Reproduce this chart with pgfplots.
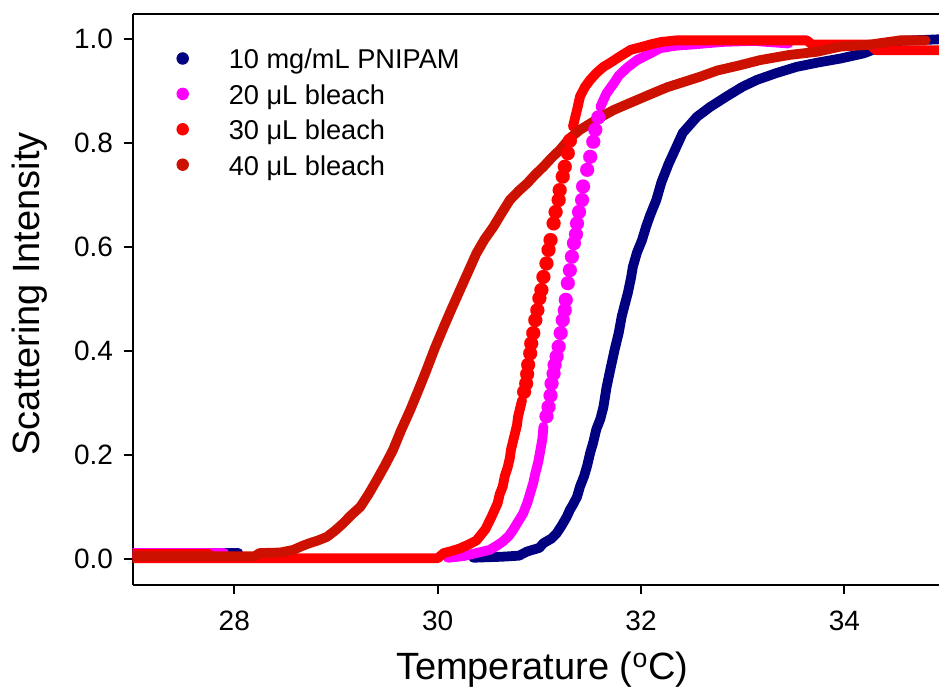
\documentclass[border=0pt]{standalone}
\usepackage{fontspec}
\setmainfont{Liberation Sans}
\usepackage{pgfplots}
\pgfplotsset{compat=1.18}
\definecolor{cblue}{RGB}{0,0,128}
\definecolor{cmag}{RGB}{255,0,255}
\definecolor{cred}{RGB}{255,0,0}
\definecolor{cdred}{RGB}{204,17,0}
\pgfplotsset{
  mydense/.style={mark=none, line width=4.9pt, line join=round, line cap=round},
  mysparse/.style={only marks, mark=*, mark size=3.5pt, mark options={solid, line width=0.05pt}},
}
\begin{document}
\begin{tikzpicture}
\useasboundingbox (-66.3pt,-51.5pt) rectangle (403.2pt,292.5pt);
\begin{axis}[
  scale only axis, width=403.2pt, height=285.5pt,
  xmin=27, xmax=34.93, ymin=-0.0494, ymax=1.0487,
  axis x line=box, axis y line=left,
  axis line style={-, line width=1pt, black},
  xtick pos=bottom, ytick pos=left,
  tick align=outside, major tick length=4.5pt,
  every tick/.style={black, line width=1pt},
  xtick={28,30,32,34}, ytick={0,0.2,0.4,0.6,0.8,1.0},
  /pgf/number format/assume math mode=true,
  ticklabel style={font=\fontsize{14}{16}\selectfont},
  xticklabel style={yshift=-4.8pt},
  yticklabel style={xshift=-1.8pt, /pgf/number format/.cd, fixed, fixed zerofill, precision=1},
  xlabel={Temperature (\textsuperscript{o}C)},
  ylabel={Scattering Intensity},
  xlabel style={font=\fontsize{19}{22}\selectfont, at={(axis description cs:0.508,0)}, anchor=base, yshift=-47.5pt},
  ylabel style={font=\fontsize{19}{22}\selectfont, at={(axis description cs:-0.116,0.51)}, anchor=base, rotate=0},
  legend image code/.code={\path (-2.9pt,0pt) -- (2.9pt,0pt); \fill (0pt,0pt) circle (2.9pt);},
  legend cell align=left,
  legend style={at={(rel axis cs:0,1)}, anchor=north west, xshift=21.95pt, yshift=-16pt,
    draw=none, fill=none, inner sep=0pt, outer sep=0pt, column sep=19.95pt, row sep=5.2pt,
    font=\fontsize{13.6}{15}\selectfont,
    nodes={inner sep=0pt, text height=11.5pt, text depth=1pt}},
  clip=true,
]
\addlegendimage{cblue}\addlegendentry{10 mg/mL PNIPAM}
\addlegendimage{cmag}\addlegendentry{20 μL bleach}
\addlegendimage{cred}\addlegendentry{30 μL bleach}
\addlegendimage{cdred}\addlegendentry{40 μL bleach}

% ---- 10 mg/mL PNIPAM ----
\addplot[mydense, color=cblue, forget plot] coordinates {(27,0.012) (27.5,0.012) (28.04,0.012)};
\addplot[mydense, color=cblue, forget plot] coordinates {
(30.35,0.003) (30.64,0.005) (30.8,0.007) (30.88,0.015) (31.0,0.022) (31.04,0.031)
(31.12,0.040) (31.17,0.050) (31.22,0.065) (31.27,0.082) (31.30,0.095) (31.33,0.105)
(31.37,0.120) (31.40,0.140) (31.44,0.160) (31.47,0.180) (31.50,0.205) (31.53,0.225)
(31.56,0.250) (31.60,0.270) (31.63,0.293) (31.66,0.330) (31.69,0.358) (31.72,0.385)
(31.74,0.403) (31.78,0.435) (31.81,0.467) (31.84,0.490) (31.87,0.512) (31.90,0.540)
(31.92,0.563) (31.96,0.590) (32.01,0.614) (32.05,0.640) (32.09,0.662) (32.15,0.691)
(32.20,0.725) (32.27,0.760) (32.34,0.790) (32.41,0.820) (32.55,0.851) (32.68,0.870)
(32.84,0.890) (33.00,0.909) (33.14,0.922) (33.33,0.935) (33.53,0.947) (33.73,0.955)
(33.96,0.963) (34.19,0.973) (34.35,0.985) (34.55,0.997) (34.93,1.000)};

% ---- 20 uL bleach ----
\addplot[mydense, color=cmag, forget plot] coordinates {(27,0.012) (27.5,0.012) (27.9,0.012)};
\addplot[mydense, color=cmag, forget plot] coordinates {
(30.10,0.003) (30.25,0.006) (30.38,0.012) (30.51,0.018) (30.58,0.026) (30.64,0.034)
(30.70,0.045) (30.74,0.056) (30.79,0.072) (30.84,0.088) (30.88,0.108) (30.91,0.127)
(30.94,0.147) (30.96,0.165) (30.99,0.188) (31.01,0.210) (31.03,0.232) (31.04,0.255)};
\addplot[mysparse, color=cmag, forget plot] coordinates {
(31.07,0.275) (31.09,0.293) (31.11,0.315) (31.12,0.338) (31.14,0.357) (31.15,0.374)
(31.17,0.390) (31.19,0.409) (31.21,0.435) (31.23,0.460) (31.25,0.479) (31.26,0.499)
(31.28,0.531) (31.30,0.556) (31.32,0.582) (31.34,0.608) (31.36,0.625) (31.37,0.646)
(31.39,0.668) (31.42,0.691) (31.43,0.717) (31.47,0.749) (31.50,0.774) (31.53,0.803)
(31.55,0.826) (31.58,0.850)};
\addplot[mydense, color=cmag, forget plot] coordinates {
(31.60,0.870) (31.66,0.896) (31.73,0.915) (31.78,0.930) (31.86,0.945) (31.96,0.960)
(32.08,0.972) (32.19,0.983) (32.35,0.988) (32.50,0.990) (32.80,0.995) (33.10,0.997)
(33.45,0.992)};

% ---- 30 uL bleach ----
\addplot[mydense, color=cred, forget plot] coordinates {(27,0.010) (27.4,0.010) (27.75,0.010)};
\addplot[mydense, color=cred, forget plot] coordinates {
(27,0.002) (27.5,0.002) (28.0,0.002) (28.5,0.002) (29.0,0.002) (29.5,0.002) (30.0,0.002)
(30.06,0.012) (30.14,0.016) (30.22,0.021) (30.30,0.028) (30.38,0.036) (30.43,0.048)
(30.47,0.058) (30.50,0.070) (30.53,0.082) (30.56,0.095) (30.59,0.108) (30.61,0.125)
(30.64,0.140) (30.66,0.160) (30.69,0.178) (30.71,0.195) (30.72,0.210) (30.74,0.226)
(30.76,0.242) (30.78,0.258) (30.79,0.274) (30.81,0.290) (30.83,0.306)};
\addplot[mysparse, color=cred, forget plot] coordinates {
(30.85,0.322) (30.87,0.338) (30.88,0.356) (30.89,0.374) (30.91,0.396) (30.92,0.415)
(30.94,0.435) (30.96,0.460) (30.98,0.479) (31.00,0.502) (31.02,0.518) (31.04,0.543)
(31.07,0.569) (31.09,0.595) (31.11,0.614) (31.14,0.646) (31.16,0.668) (31.19,0.691)
(31.20,0.710) (31.23,0.736) (31.25,0.755) (31.28,0.781) (31.30,0.805)};
\addplot[mydense, color=cred, forget plot] coordinates {
(31.33,0.832) (31.37,0.864) (31.40,0.890) (31.45,0.909) (31.50,0.922) (31.56,0.935)
(31.63,0.947) (31.69,0.954) (31.80,0.968) (31.90,0.980) (32.00,0.985) (32.09,0.990)
(32.20,0.995) (32.35,0.998) (32.70,0.998) (33.00,0.998) (33.30,0.998) (33.63,0.998)
(33.68,0.990) (34.00,0.990) (34.25,0.990) (34.31,0.979) (34.60,0.979) (34.93,0.979)};

% ---- 40 uL bleach ----
\addplot[mydense, color=cdred, forget plot] coordinates {
(27,0.006) (27.6,0.006) (28.20,0.006) (28.25,0.012) (28.45,0.013) (28.58,0.018)
(28.66,0.025) (28.74,0.031) (28.82,0.036) (28.91,0.043) (28.99,0.055) (29.07,0.069)
(29.15,0.085) (29.24,0.101) (29.32,0.125) (29.40,0.152) (29.48,0.180) (29.56,0.210)
(29.64,0.248) (29.73,0.287) (29.81,0.325) (29.89,0.364) (29.97,0.405) (30.06,0.447)
(30.14,0.483) (30.22,0.518) (30.30,0.553) (30.38,0.588) (30.46,0.615) (30.55,0.640)
(30.63,0.666) (30.71,0.691) (30.80,0.709) (30.88,0.723) (30.96,0.740) (31.04,0.755)
(31.12,0.772) (31.20,0.787) (31.30,0.810) (31.40,0.826) (31.50,0.838) (31.60,0.850)
(31.73,0.864) (31.92,0.880) (32.10,0.895) (32.26,0.908) (32.42,0.918) (32.58,0.928)
(32.75,0.940) (32.97,0.950) (33.17,0.960) (33.46,0.970) (33.73,0.976) (33.96,0.986)
(34.22,0.989) (34.55,0.998) (34.80,0.998)};
\end{axis}
\end{tikzpicture}
\end{document}
